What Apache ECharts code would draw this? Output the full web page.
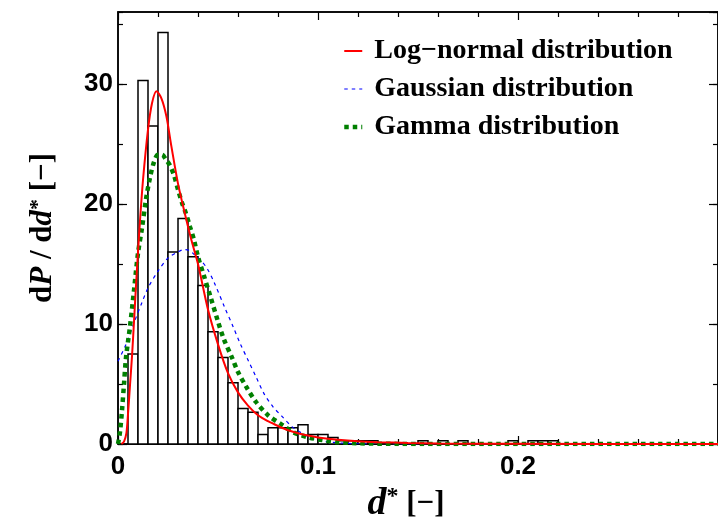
<!DOCTYPE html>
<html>
<head>
<meta charset="utf-8">
<script src="https://cdn.jsdelivr.net/npm/echarts@6/dist/echarts.min.js"></script>
<style>
html,body{margin:0;padding:0;background:#fff;}
#chart{width:718px;height:528px;}
</style>
</head>
<body>
<div id="chart"></div>
<script>
// Histogram: bin width and density per bin (bins start at 0)
const binWidth = 0.005;
const histDensity = [0, 7.5, 30.3, 26.5, 34.3, 16.0, 18.8, 15.6, 13.2, 9.35,
  7.2, 5.1, 2.95, 2.65, 0.8, 1.35, 1.35, 1.35, 1.6, 0.8,
  0.8, 0.55, 0.27, 0.27, 0.27, 0.27, 0, 0, 0, 0,
  0.27, 0, 0.27, 0, 0.27, 0, 0, 0, 0, 0.27,
  0, 0.27, 0.27, 0.27];

// Log-normal fit curve
const lognormX = [0.0017, 0.003, 0.0042, 0.005, 0.006, 0.007, 0.008, 0.009, 0.010, 0.011, 0.0125, 0.015, 0.017, 0.0192, 0.0217, 0.0242, 0.0267, 0.030, 0.0333, 0.0367, 0.040, 0.045, 0.050, 0.055, 0.060, 0.065, 0.070, 0.075, 0.080, 0.085, 0.090, 0.095, 0.100, 0.110, 0.120, 0.130, 0.145, 0.160, 0.200, 0.300];
const lognormY = [0, 0.2, 0.9, 2.5, 4.9, 7.3, 10.2, 13.2, 16.0, 18.6, 22.0, 26.2, 28.4, 29.4, 28.8, 27.3, 24.8, 21.7, 19.3, 17.0, 15.0, 11.2, 8.3, 5.9, 4.3, 3.2, 2.4, 1.9, 1.5, 1.15, 0.9, 0.7, 0.55, 0.35, 0.22, 0.15, 0.09, 0.05, 0.02, 0];

// Gaussian fit curve
const gaussX = [0, 0.004, 0.008, 0.012, 0.015, 0.020, 0.025, 0.030, 0.033, 0.036, 0.038, 0.042, 0.045, 0.048, 0.0533, 0.0575, 0.061, 0.065, 0.069, 0.073, 0.0775, 0.082, 0.087, 0.092, 0.098, 0.105, 0.115, 0.130, 0.300];
const gaussY = [6.9, 8.3, 10.1, 11.8, 13.0, 14.4, 15.5, 16.0, 16.2, 16.1, 15.8, 15.2, 14.5, 13.5, 11.4, 9.8, 8.4, 7.0, 5.6, 4.2, 3.1, 2.3, 1.45, 0.9, 0.4, 0.18, 0.05, 0, 0];

// Gamma fit curve
const gammaX = [0, 0.001, 0.002, 0.003, 0.004, 0.006, 0.008, 0.010, 0.012, 0.014, 0.016, 0.018, 0.020, 0.022, 0.024, 0.026, 0.028, 0.030, 0.032, 0.034, 0.036, 0.038, 0.040, 0.043, 0.046, 0.050, 0.053, 0.057, 0.060, 0.064, 0.069, 0.075, 0.082, 0.088, 0.095, 0.102, 0.110, 0.120, 0.140, 0.300];
const gammaY = [0, 1.0, 2.8, 5.0, 7.2, 9.8, 12.8, 15.9, 18.0, 20.4, 22.2, 23.5, 24.1, 24.1, 23.7, 23.2, 22.4, 21.2, 20.1, 19.2, 18.1, 17.0, 15.6, 14.0, 12.4, 10.2, 8.7, 7.2, 6.0, 4.8, 3.5, 2.4, 1.6, 0.95, 0.56, 0.33, 0.15, 0.06, 0.01, 0];

const seriesNames = ['Log\u2212normal distribution', 'Gaussian distribution', 'Gamma distribution'];
const xTickInterval = 0.1;
const yTickInterval = 10;

const histData = histDensity.map((h, i) => [i * binWidth, (i + 1) * binWidth, h]);
const zip = (xs, ys) => xs.map((x, i) => [x, ys[i]]);

const chart = echarts.init(document.getElementById('chart'), null, {renderer: 'canvas'});

const tickLabel = {fontFamily: 'Liberation Sans', fontWeight: 'bold', fontSize: 26, color: '#000'};
const serif = 'Liberation Serif';

function xAxisDef(pos, labels) {
  return {
    type: 'value', position: pos, min: 0, max: 0.3, interval: xTickInterval,
    axisLine: {show: true, onZero: false, lineStyle: {color: '#000', width: 1.5}},
    axisTick: {show: true, inside: true, length: 8, lineStyle: {color: '#000', width: 1.2}},
    minorTick: {show: true, splitNumber: 5, length: 5, lineStyle: {color: '#000', width: 1.2}},
    splitLine: {show: false}, minorSplitLine: {show: false},
    axisLabel: Object.assign({show: labels, margin: 10, showMaxLabel: false}, tickLabel)
  };
}
function yAxisDef(pos, interval, len, labels, line) {
  return {
    type: 'value', position: pos, min: 0, max: 36, interval: interval,
    axisLine: {show: line, onZero: false, lineStyle: {color: '#000', width: 1.5}},
    axisTick: {show: true, inside: true, length: len, lineStyle: {color: '#000', width: 1.2}},
    splitLine: {show: false},
    axisLabel: Object.assign({show: labels, margin: 5, showMaxLabel: false}, tickLabel)
  };
}

const xAxes = [xAxisDef('bottom', true), xAxisDef('top', false)];
xAxes[0].name = '{d|d}{s|*}{n| [\u2212]}';
xAxes[0].nameLocation = 'middle';
xAxes[0].nameGap = 38;
xAxes[0].nameTextStyle = {
  color: '#000',
  padding: [0, 24, 0, 0],
  rich: {
    d: {fontFamily: serif, fontStyle: 'italic', fontWeight: 'bold', fontSize: 38, color: '#000'},
    s: {fontFamily: serif, fontWeight: 'bold', fontSize: 24, verticalAlign: 'top', color: '#000'},
    n: {fontFamily: serif, fontWeight: 'bold', fontSize: 31, color: '#000'}
  }
};

const yAxes = [
  yAxisDef('left', yTickInterval, 9, true, true),
  yAxisDef('left', 5, 5, false, false),
  yAxisDef('right', yTickInterval, 9, false, true),
  yAxisDef('right', 5, 5, false, false)
];
yAxes[0].name = '{n|d}{i|P}{n| / d}{i|d}{s|*}{n| [\u2212]}';
yAxes[0].nameLocation = 'middle';
yAxes[0].nameRotate = 90;
yAxes[0].nameGap = 60;
yAxes[0].nameTextStyle = {
  color: '#000',
  rich: {
    n: {fontFamily: serif, fontWeight: 'bold', fontSize: 31, color: '#000'},
    i: {fontFamily: serif, fontStyle: 'italic', fontWeight: 'bold', fontSize: 31, color: '#000'},
    s: {fontFamily: serif, fontWeight: 'bold', fontSize: 22, verticalAlign: 'top', color: '#000'}
  }
};

chart.setOption({
  animation: false,
  backgroundColor: '#fff',
  grid: {left: 118, top: 12, width: 600, height: 432, show: true, borderColor: '#000', borderWidth: 1.5, backgroundColor: 'transparent'},
  legend: {
    data: seriesNames,
    orient: 'vertical',
    left: 337, top: 32,
    itemWidth: 18, itemHeight: 14, itemGap: 10,
    formatter: n => ' ' + n,
    itemStyle: {color: 'transparent', borderWidth: 0, opacity: 0},
    lineStyle: {width: 'inherit'},
    textStyle: {fontFamily: serif, fontWeight: 'bold', fontSize: 28, lineHeight: 28, color: '#000'}
  },
  xAxis: xAxes,
  yAxis: yAxes,
  series: [
    {
      type: 'custom', name: 'histogram', xAxisIndex: 0, yAxisIndex: 0,
      data: histData, encode: {x: [0, 1], y: 2},
      renderItem: function (params, api) {
        const h = api.value(2);
        if (!(h > 0)) return null;
        const p0 = api.coord([api.value(0), h]);
        const p1 = api.coord([api.value(1), 0]);
        return {type: 'rect', shape: {x: p0[0], y: p0[1], width: p1[0] - p0[0], height: p1[1] - p0[1]},
          style: {fill: '#fff', stroke: '#000', lineWidth: 1.5}};
      },
      z: 1
    },
    {
      type: 'line', name: seriesNames[1], data: zip(gaussX, gaussY), smooth: 0.3,
      showSymbol: false, symbol: 'none',
      lineStyle: {color: '#0000ff', width: 1.2, type: [3.5, 4]}, itemStyle: {color: '#0000ff'}, z: 2
    },
    {
      type: 'line', name: seriesNames[2], data: zip(gammaX, gammaY), smooth: 0.3,
      showSymbol: false, symbol: 'none',
      lineStyle: {color: '#008000', width: 4.5, type: [4.5, 4], cap: 'butt'}, itemStyle: {color: '#008000'}, z: 3
    },
    {
      type: 'line', name: seriesNames[0], data: zip(lognormX, lognormY), smooth: 0.3,
      showSymbol: false, symbol: 'none',
      lineStyle: {color: '#ff0000', width: 2}, itemStyle: {color: '#ff0000'}, z: 4
    }
  ]
});
</script>
</body>
</html>
